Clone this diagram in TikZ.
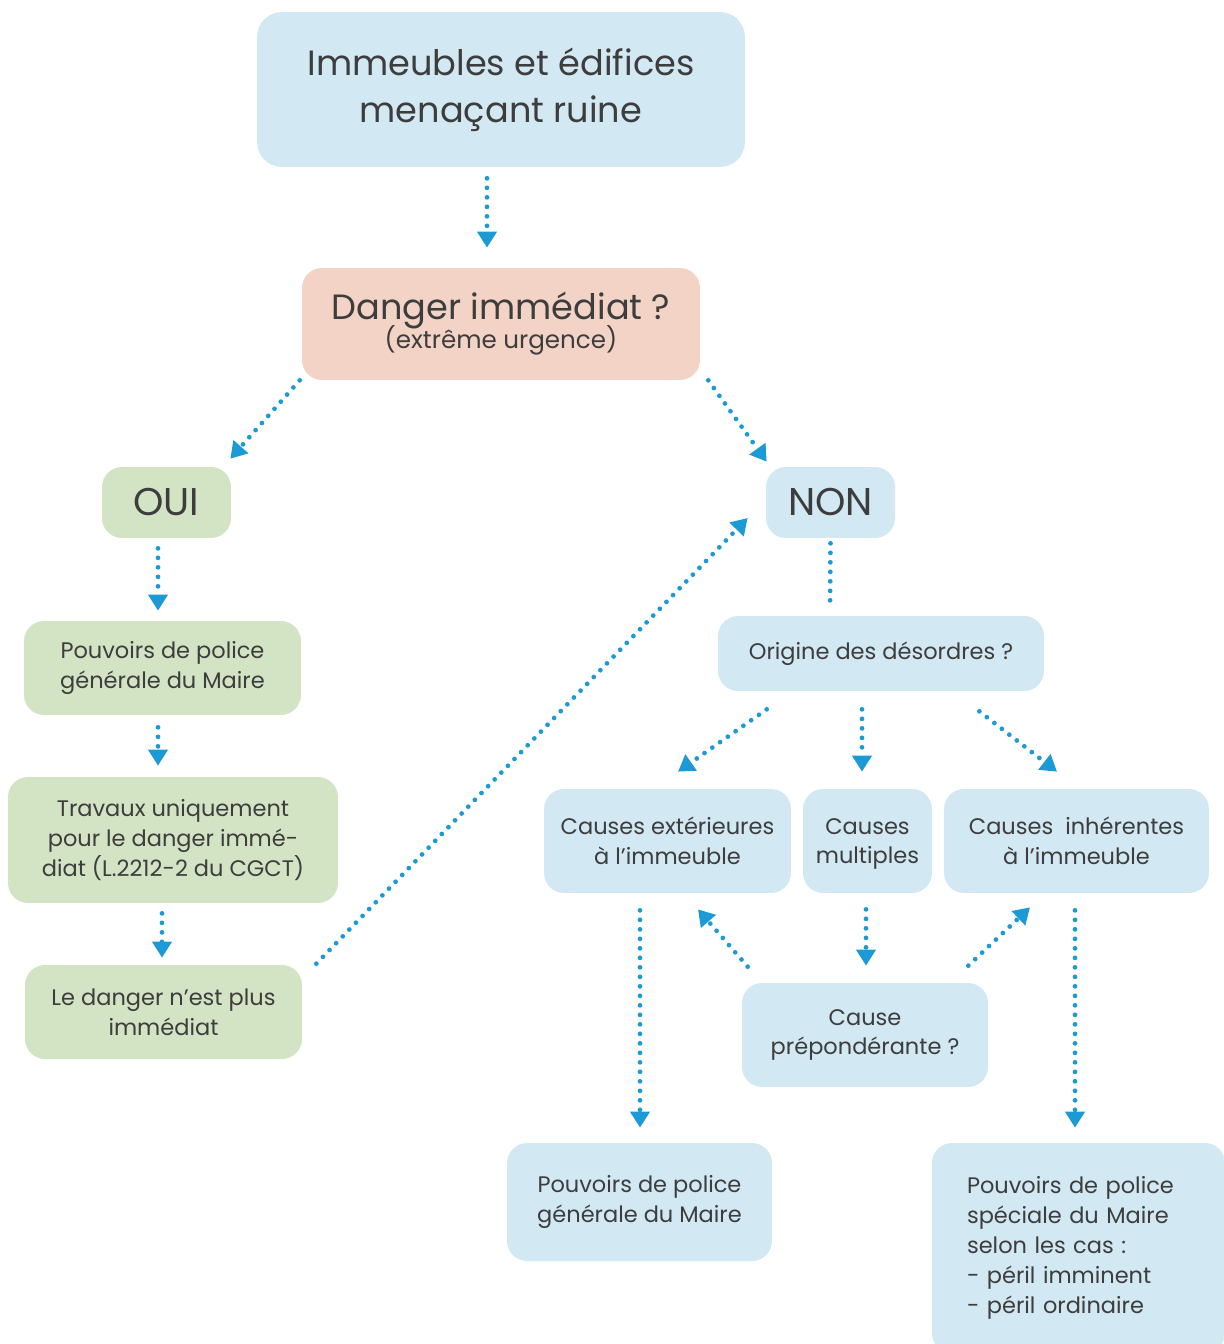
\documentclass[tikz,border=0pt]{standalone}
\usepackage{fontspec}
\setmainfont{Poppins}
\usetikzlibrary{arrows.meta}
\definecolor{boxblue}{HTML}{D2E8F2}
\definecolor{boxpink}{HTML}{F3D3C5}
\definecolor{boxgreen}{HTML}{D3E4C5}
\definecolor{arrowblue}{HTML}{1B9AD6}
\definecolor{txtgray}{HTML}{3D3D3D}
\newcommand{\bigtxt}{\fontsize{20}{26.6}\selectfont}
\newcommand{\smtxt}{\fontsize{12.8}{17}\selectfont}

\tikzset{
  box/.style={rounded corners=0.4cm, inner sep=0pt, align=center, text=txtgray, font=\smtxt},
  bluebox/.style={box, fill=boxblue},
  greenbox/.style={box, fill=boxgreen},
  flow/.style={arrowblue, line width=0.095cm, line cap=round,
    dash pattern=on 0pt off 0.19cm, -{Triangle[length=0.32cm,width=0.38cm]}},
  dots/.style={arrowblue, line width=0.095cm, line cap=round, dash pattern=on 0pt off 0.19cm}
}

\begin{document}
\begin{tikzpicture}[x=0.02cm,y=-0.02cm]
   \useasboundingbox (0,0) rectangle (1223,1344);
   % question boxes
   \node[bluebox, rounded corners=0.5cm, minimum width=9.76cm, minimum height=3.1cm, font=\bigtxt]
      (top) at (501,89.5) {Immeubles et édifices\\menaçant ruine};
   \node[box, fill=boxpink, minimum width=7.96cm, minimum height=2.24cm]
      (danger) at (501,324) {{\bigtxt Danger immédiat ?}\\[-3pt]{\fontsize{14}{17}\selectfont (extrême urgence)}};
   \node[greenbox, minimum width=2.58cm, minimum height=1.42cm, font=\fontsize{22}{26}\selectfont]
      (oui) at (166.5,502.5) {OUI};
   \node[bluebox, minimum width=2.58cm, minimum height=1.42cm, font=\fontsize{22}{26}\selectfont]
      (non) at (830.5,502.5) {NON};
   % left branch
   \node[greenbox, minimum width=5.54cm, minimum height=1.88cm] (gen1) at (162.5,668)
      {Pouvoirs de police\\générale du Maire};
   \node[greenbox, minimum width=6.6cm, minimum height=2.52cm] (travaux) at (173,840)
      {Travaux uniquement\\pour le danger immé-\\diat (L.2212-2 du CGCT)};
   \node[greenbox, minimum width=5.54cm, minimum height=1.88cm] (ledanger) at (163.5,1012)
      {Le danger n’est plus\\immédiat};
   % right branch
   \node[bluebox, minimum width=6.52cm, minimum height=1.5cm] (origine) at (881,653.5)
      {Origine des désordres ?};
   \node[bluebox, minimum width=4.94cm, minimum height=2.08cm] (ext) at (667.5,841)
      {Causes extérieures\\à l’immeuble};
   \node[bluebox, minimum width=2.58cm, minimum height=2.08cm] (mult) at (867.5,841)
      {Causes\\\raisebox{0pt}[\height][0pt]{multiples}};
   \node[bluebox, minimum width=5.3cm, minimum height=2.08cm] (inh) at (1076.5,841)
      {Causes~~inhérentes\\à l’immeuble};
   \node[bluebox, minimum width=4.92cm, minimum height=2.08cm] (prep) at (865,1035)
      {Cause\\prépondérante ?};
   \node[bluebox, minimum width=5.3cm, minimum height=2.36cm] (gen2) at (639.5,1202)
      {Pouvoirs de police\\générale du Maire};
   \node[bluebox, align=left, text width=4.46cm, inner xsep=0.7cm, minimum height=4.2cm]
      (spec) at (1078.5,1248) {Pouvoirs de police\\spéciale du Maire\\selon les cas :\\- péril imminent\\- péril ordinaire};
   % connectors
   \draw[flow] ([shift={(-14,11)}]top.south) -- ([shift={(-14,-20)}]danger.north);
   \draw[flow] ([shift={(-2,0)}]danger.south west) -- ([shift={(-1,-8)}]oui.north east);
   \draw[flow] ([shift={(8,0)}]danger.south east) -- ([shift={(1,-5)}]non.north west);
   \draw[flow] ([shift={(-8.5,10)}]oui.south) -- ([shift={(-4.5,-10)}]gen1.north);
   \draw[flow] ([shift={(-4.5,12)}]gen1.south) -- ([shift={(-15,-11)}]travaux.north);
   \draw[flow] ([shift={(-11,10)}]travaux.south) -- ([shift={(-1.5,-7)}]ledanger.north);
   \draw[flow] ([shift={(14,-1)}]ledanger.north east) -- ([shift={(-18,15.5)}]non.west);
   \draw[dots] ([shift={(0,5)}]non.south) -- ([shift={(-51,-6)}]origine.north);
   \draw[flow] ([shift={(49,18)}]origine.south west) -- ([shift={(10.5,-17)}]ext.north);
   \draw[flow] ([shift={(-19,18)}]origine.south) -- ([shift={(-5.5,-17)}]mult.north);
   \draw[flow] ([shift={(-65,20)}]origine.south east) -- ([shift={(-19.5,-17)}]inh.north);
   \draw[flow] ([shift={(-1.5,16)}]mult.south) -- ([shift={(1,-17)}]prep.north);
   \draw[flow] ([shift={(6,-16)}]prep.north west) -- ([shift={(30.5,16)}]ext.south);
   \draw[flow] ([shift={(-20,-17)}]prep.north east) -- ([shift={(-46.5,14)}]inh.south);
   \draw[flow] ([shift={(-27.5,17)}]ext.south) -- ([shift={(0.5,-15)}]gen2.north);
   \draw[flow] ([shift={(-1.5,17)}]inh.south) -- ([shift={(-3.5,-15)}]spec.north);
\end{tikzpicture}
\end{document}
